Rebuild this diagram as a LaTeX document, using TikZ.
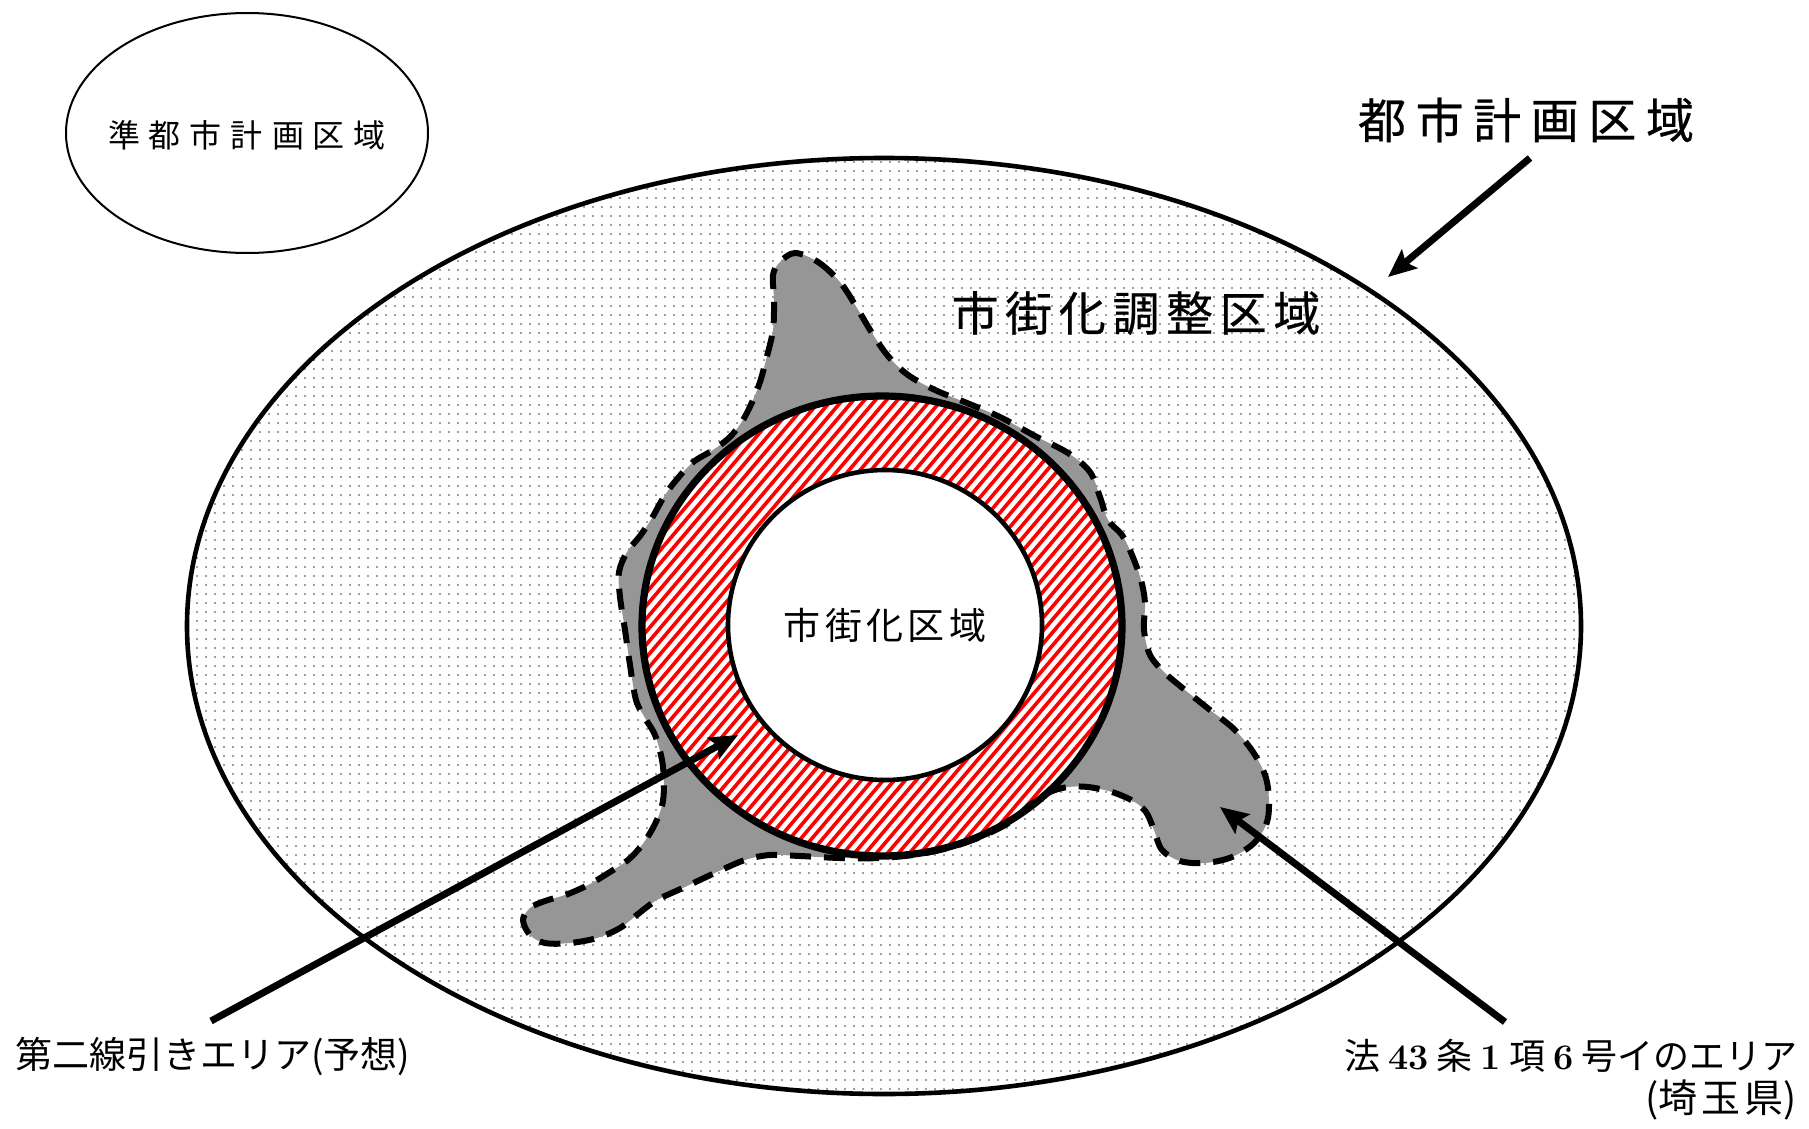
\documentclass[tikz,border=0pt]{standalone}
\usepackage{fontspec}
\newfontfamily\jp{Noto Sans CJK JP}
\newfontfamily\jpb[FakeBold=0.5]{Noto Sans CJK JP}
\usetikzlibrary{arrows.meta}
\definecolor{dotgray}{HTML}{A0A0A0}
\definecolor{blobgray}{HTML}{969696}
\makeatletter
\newcommand\spreadtxt[2]{\def\sp@sep{}\@tfor\sp@c:=#2\do{\sp@sep\sp@c\def\sp@sep{\hspace*{#1}}}}
\makeatother
\newcommand\dg[1]{{\normalfont\bfseries #1}}
\begin{document}
\begin{tikzpicture}[x=0.5pt,y=-0.5pt,
  arrowline/.style={line width=3.5pt,-{Stealth[length=14pt,width=12pt,inset=2.5pt]}},
  lbl/.style={inner sep=0pt,text=black},
  dotrow/.style={dotgray,line width=1pt,dash pattern=on 1pt off 3.5pt},
  hatchline/.style={red,line width=1.8pt},
  dashblob/.style={line width=3pt,dash pattern=on 10.5pt off 6.5pt}]
\useasboundingbox (0,0) rectangle (1809,1129);
\fill[white] (0,0) rectangle (1809,1129);
% city planning area (dotted)
\begin{scope}
\clip (884,626) ellipse [x radius=697,y radius=468];
\foreach \r in {0,...,105} {
  \draw[dotrow] (187,162+\r*9) -- (1585,162+\r*9);
}
\end{scope}
\draw[line width=2.3pt] (884,626) ellipse [x radius=697,y radius=468];
% quasi area
\draw[line width=1pt] (247,133) ellipse [x radius=181,y radius=120];
% blob
\path[save path=\blobp] plot[smooth cycle,tension=0.55] coordinates {
(795,253) (818,262) (840,282) (857,308) (872,333) (888,356) (908,375) (935,390)
(967,403) (1000,417) (1035,436) (1068,453) (1090,472) (1100,497) (1108,520)
(1122,535) (1132,555) (1141,580) (1145,603) (1144,630) (1150,655) (1165,673)
(1185,690) (1210,710) (1235,730) (1255,755) (1267,782) (1268,818) (1255,842)
(1232,857) (1205,863) (1180,861) (1162,850) (1154,830) (1146,812) (1133,801)
(1112,792) (1088,787) (1068,787) (1050,792) (1030,805) (1010,822) (985,835)
(955,846) (920,854) (880,858) (840,858) (800,856) (770,855) (745,860) (717,872)
(685,887) (657,900) (638,914) (620,928) (597,938) (570,943) (545,943) (530,935)
(523,920) (530,908) (545,901) (568,894) (590,884) (610,872) (628,860) (642,845)
(654,826) (662,806) (664,785) (662,760) (655,735) (645,718) (636,700) (630,665)
(625,630) (620,597) (619,572) (627,552) (640,536) (652,518) (662,500) (673,484)
(692,463) (713,450) (730,437) (743,420) (753,400) (760,382) (766,360) (773,330)
(774,300) (773,275) (780,262)};
\fill[blobgray,use path=\blobp];
% ring with red hatching
\fill[white] (882,626) ellipse [x radius=240,y radius=230];
\begin{scope}
\clip (882,626) ellipse [x radius=240,y radius=230];
\foreach \i in {-42,...,42} {
  \draw[hatchline] (682+\i*11,862) -- (1082+\i*11,390);
}
\end{scope}
\fill[white] (885,625) ellipse [x radius=157,y radius=155];
\draw[line width=3.6pt] (882,626) ellipse [x radius=240,y radius=230];
\draw[line width=2.3pt] (885,625) ellipse [x radius=157,y radius=155];
\draw[dashblob,use path=\blobp];
% labels
\node[lbl,font=\jp\fontsize{16}{18}\selectfont] (qtoshi) at (247,135) {\spreadtxt{4.5pt}{準都市計画区域}};
\node[lbl,font=\jpb\fontsize{24}{28}\selectfont] (toshi) at (1526,120) {\spreadtxt{4.8pt}{都市計画区域}};
\node[lbl,font=\jpb\fontsize{23.5}{28}\selectfont] (chosei) at (1136,313) {\spreadtxt{3.3pt}{市街化調整区域}};
\node[lbl,font=\jp\fontsize{18.5}{22}\selectfont] (shigai) at (885,625) {\spreadtxt{2.2pt}{市街化区域}};
\node[lbl,font=\jp\fontsize{18.5}{22}\selectfont,anchor=west] (daini) at (15,1056) {第二線引きエリア(予想)};
\node[lbl,font=\jp\fontsize{18}{22}\selectfont,anchor=east] (ho43) at (1798,1056) {法 \dg{43} 条 \dg{1} 項 \dg{6} 号イのエリア};
\node[lbl,font=\jp\fontsize{19.5}{22}\selectfont,anchor=east] (saitama) at (1797,1100) {(\spreadtxt{2pt}{埼玉県})};
% arrows
\coordinate (a1s) at (1530,158); \coordinate (a1t) at (1388,277);
\coordinate (a2s) at (211,1021); \coordinate (a2t) at (738,735);
\coordinate (a3s) at (1505,1022); \coordinate (a3t) at (1220,807);
\draw[arrowline] (a1s) -- (a1t);
\draw[arrowline] (a2s) -- (a2t);
\draw[arrowline] (a3s) -- (a3t);
\end{tikzpicture}
\end{document}
